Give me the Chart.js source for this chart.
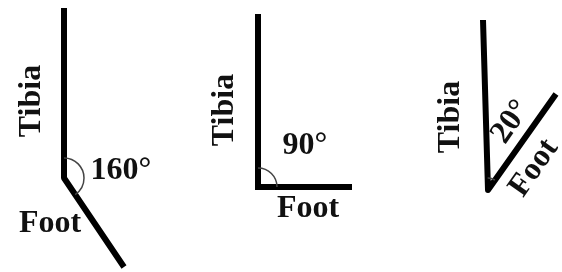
<!DOCTYPE html>
<html>
<head>
<meta charset="utf-8">
<script src="https://cdn.jsdelivr.net/npm/chart.js@4/dist/chart.umd.min.js"></script>
<style>
  html, body { margin: 0; padding: 0; background: #fff; }
  #wrap { width: 562px; height: 272px; }
</style>
</head>
<body>
<div id="wrap"><canvas id="angleChart" width="562" height="272"></canvas></div>
<script>
// Angle labels for each panel
var angleLabels = ['160°', '90°', '20°'];

// Segment end points (x across, y down) for tibia top, joint, foot end
var tibiaTopX = [64, 258, 483];
var tibiaTopY = [8, 14, 20];
var jointX = [64, 258, 488];
var jointY = [178, 187, 190];
var footEndX = [124, 352, 556];
var footEndY = [267, 187, 94];

var fontFace = '"Liberation Serif", "Times New Roman", serif';

// Where the words sit around each joint (layout only)
var labelLayout = [
    { tibia: [32, 101], angle: [121, 171, 0], foot: [50, 224, 0], arcR: 20, join: 'bevel' },
    { tibia: [225, 110], angle: [305, 146, 0], foot: [308, 209, 0], arcR: 19, join: 'miter' },
    { tibia: [451, 117], angle: [511, 122, -55], foot: [534, 168, -55], arcR: 12, join: 'round' }
];

function buildDatasets() {
    var sets = [];
    for (var i = 0; i < angleLabels.length; i++) {
        sets.push({
            label: angleLabels[i],
            data: [
                { x: tibiaTopX[i], y: tibiaTopY[i] },
                { x: jointX[i], y: jointY[i] },
                { x: footEndX[i], y: footEndY[i] }
            ],
            showLine: true,
            borderColor: '#000',
            borderWidth: 6,
            borderJoinStyle: labelLayout[i].join,
            borderCapStyle: 'butt',
            pointRadius: 0,
            fill: false
        });
    }
    return sets;
}

// Draw angle arcs and text labels
var diagramPlugin = {
    id: 'diagramText',
    afterDatasetsDraw: function(chart) {
        var ctx = chart.ctx;
        var xs = chart.scales.x;
        var ys = chart.scales.y;
        for (var i = 0; i < angleLabels.length; i++) {
            var lay = labelLayout[i];
            var jx = xs.getPixelForValue(jointX[i]);
            var jy = ys.getPixelForValue(jointY[i]);
            var tx = xs.getPixelForValue(tibiaTopX[i]);
            var ty = ys.getPixelForValue(tibiaTopY[i]);
            var fx = xs.getPixelForValue(footEndX[i]);
            var fy = ys.getPixelForValue(footEndY[i]);
            var a1 = Math.atan2(ty - jy, tx - jx);
            var a2 = Math.atan2(fy - jy, fx - jx);

            ctx.save();
            ctx.strokeStyle = '#444';
            ctx.lineWidth = 1.5;
            ctx.beginPath();
            ctx.arc(jx, jy, lay.arcR, a1, a2, false);
            ctx.stroke();
            ctx.restore();

            ctx.save();
            ctx.fillStyle = '#111';
            ctx.font = 'bold 32px ' + fontFace;
            ctx.textAlign = 'center';
            ctx.textBaseline = 'middle';

            // Tibia, rotated
            ctx.save();
            ctx.translate(lay.tibia[0], lay.tibia[1]);
            ctx.rotate(-Math.PI / 2);
            ctx.fillText('Tibia', 0, 0);
            ctx.restore();

            // Angle value
            ctx.save();
            ctx.translate(lay.angle[0], lay.angle[1]);
            ctx.rotate(lay.angle[2] * Math.PI / 180);
            ctx.fillText(angleLabels[i], 0, 0);
            ctx.restore();

            // Foot
            ctx.save();
            ctx.translate(lay.foot[0], lay.foot[1]);
            ctx.rotate(lay.foot[2] * Math.PI / 180);
            ctx.fillText('Foot', 0, 0);
            ctx.restore();

            ctx.restore();
        }
    }
};

var ctx = document.getElementById('angleChart').getContext('2d');
var angleChart = new Chart(ctx, {
    type: 'scatter',
    data: { datasets: buildDatasets() },
    options: {
        responsive: false,
        animation: false,
        layout: { padding: 0 },
        plugins: {
            legend: { display: false },
            tooltip: { enabled: false }
        },
        scales: {
            x: { type: 'linear', min: 0, max: 562, display: false },
            y: { type: 'linear', min: 0, max: 272, reverse: true, display: false }
        }
    },
    plugins: [diagramPlugin]
});
</script>
</body>
</html>
